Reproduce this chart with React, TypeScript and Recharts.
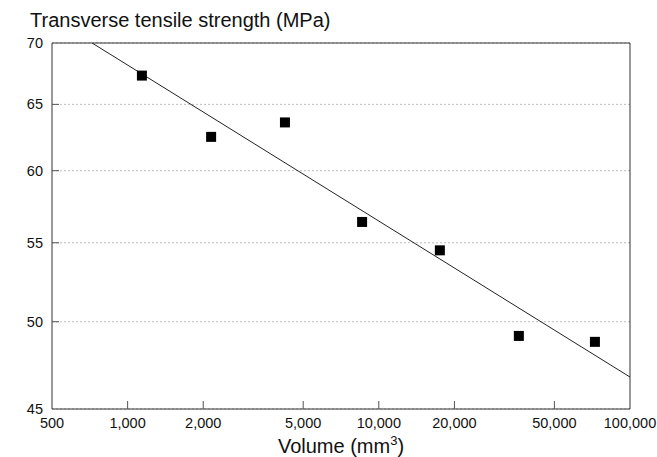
import React from 'react';
import { ScatterChart, Scatter, XAxis, YAxis, CartesianGrid, ReferenceArea } from 'recharts';

const volumes = [1140, 2150, 4230, 8580, 17500, 36100, 72500];
const strengths = [67.3, 62.5, 63.6, 56.4, 54.5, 49.15, 48.8];
const fitVolumes = [722, 100000];
const fitStrengths = [70, 46.77];
const xTicks = [500, 1000, 2000, 5000, 10000, 20000, 50000, 100000];
const yTicks = [45, 50, 55, 60, 65, 70];

const points = volumes.map((v, i) => ({ x: v, y: strengths[i] }));
const fit = fitVolumes.map((v, i) => ({ x: v, y: fitStrengths[i] }));

const FONT = '"Liberation Sans", Arial, Helvetica, sans-serif';

const XTick = (props: any) => {
  const { x, y, payload } = props;
  const v = payload.value;
  const inner = v !== 500 && v !== 100000;
  return (
    <g>
      {inner && <line x1={x} y1={y} x2={x} y2={y - 8} stroke="#555" strokeWidth={1} />}
      <text x={x} y={y + 19} textAnchor="middle" fontSize={14.5} fontFamily={FONT} fill="#111">
        {v.toLocaleString('en-US')}
      </text>
    </g>
  );
};

const YTick = (props: any) => {
  const { x, y, payload } = props;
  const v = payload.value;
  const inner = v !== 45 && v !== 70;
  return (
    <g>
      {inner && <line x1={x} y1={y} x2={x + 7} y2={y} stroke="#555" strokeWidth={1} />}
      <text x={x - 9} y={y + 5} textAnchor="end" fontSize={14.5} fontFamily={FONT} fill="#111">
        {v}
      </text>
    </g>
  );
};

const SquareShape = (props: any) => {
  const { cx, cy } = props;
  return <rect x={cx - 5} y={cy - 5} width={10} height={10} fill="#000" />;
};

const NoShape = () => null;

export default function App() {
  return (
    <div style={{ position: 'absolute', left: 0, top: 0, width: 657, height: 457, background: '#fff', fontFamily: FONT }}>
      <div style={{ position: 'absolute', left: 30, top: 9, fontSize: 20, lineHeight: '22px', color: '#111', whiteSpace: 'nowrap' }}>
        Transverse tensile strength (MPa)
      </div>
      <ScatterChart width={657} height={457} margin={{ top: 43, right: 27, bottom: 0, left: 0 }}>
        <CartesianGrid vertical={false} stroke="#bdbdbd" strokeDasharray="2 2" />
        <XAxis
          dataKey="x"
          type="number"
          scale="log"
          domain={[500, 100000]}
          ticks={xTicks}
          height={48}
          tickSize={0}
          tickMargin={0}
          tickLine={false}
          axisLine={false}
          tick={<XTick />}
          interval={0}
          allowDataOverflow
        />
        <YAxis
          dataKey="y"
          type="number"
          scale="log"
          domain={[45, 70]}
          ticks={yTicks}
          width={52}
          tickSize={0}
          tickMargin={0}
          tickLine={false}
          axisLine={false}
          tick={<YTick />}
          interval={0}
          allowDataOverflow
        />
        <ReferenceArea x1={500} x2={100000} y1={45} y2={70} fill="none" stroke="#333" strokeWidth={1} ifOverflow="visible" />
        <Scatter data={fit} line={{ stroke: '#222', strokeWidth: 1 }} shape={<NoShape />} isAnimationActive={false} />
        <Scatter data={points} shape={<SquareShape />} isAnimationActive={false} />
      </ScatterChart>
      <div style={{ position: 'absolute', left: 52, width: 578, top: 435, textAlign: 'center', fontSize: 20, lineHeight: '22px', color: '#111', whiteSpace: 'nowrap' }}>
        Volume (mm<sup style={{ fontSize: 13, verticalAlign: 'super', lineHeight: 0 }}>3</sup>)
      </div>
    </div>
  );
}
